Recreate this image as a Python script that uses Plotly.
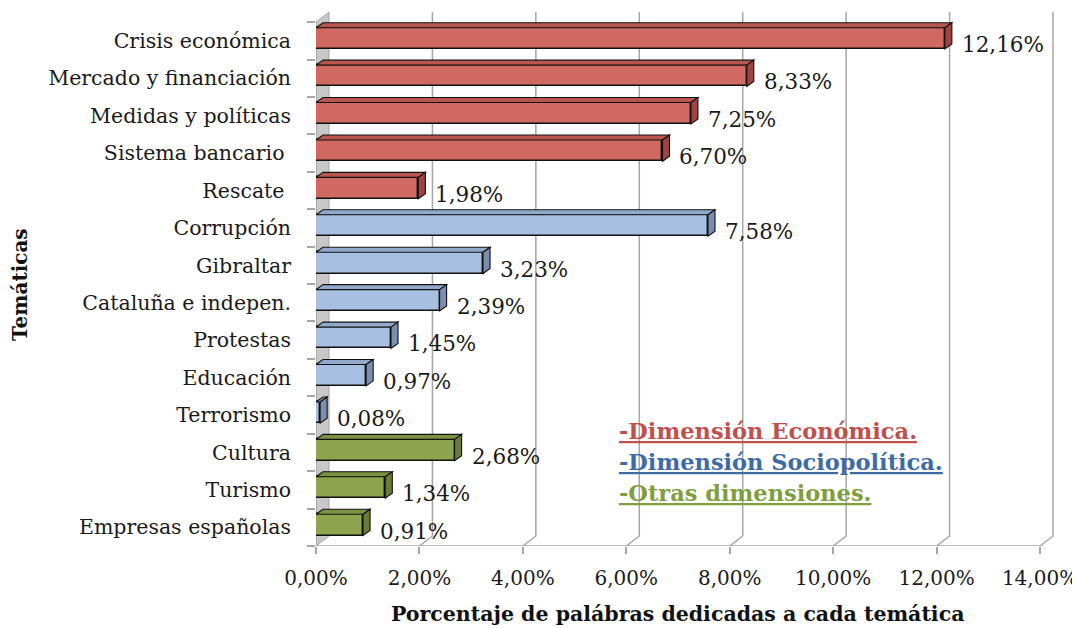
import plotly.graph_objects as go

# ---------------- data ----------------
categories = ["Crisis económica", "Mercado y financiación", "Medidas y políticas",
              "Sistema bancario ", "Rescate ", "Corrupción", "Gibraltar",
              "Cataluña e indepen.", "Protestas", "Educación", "Terrorismo",
              "Cultura", "Turismo", "Empresas españolas"]
values_pct = [12.16, 8.33, 7.25, 6.70, 1.98, 7.58, 3.23, 2.39, 1.45, 0.97, 0.08,
              2.68, 1.34, 0.91]
groups = ["eco"] * 5 + ["soc"] * 6 + ["otr"] * 3
x_ticks = [0, 0.02, 0.04, 0.06, 0.08, 0.10, 0.12, 0.14]
legend_labels = ["-Dimensión Económica.", "-Dimensión Sociopolítica.", "-Otras dimensiones."]

# ---------------- style ----------------
FONT = "DejaVu Serif"
OFF = 8                      # page body margin of the browser
W, H = 1080 - OFF, 628 - OFF
front = {"eco": "#CF6961", "soc": "#A7C0E1", "otr": "#8EA54D"}
topc = {"eco": "#B9564F", "soc": "#92A9CB", "otr": "#7C9242"}
side = {"eco": "#9E433D", "soc": "#7A8FAF", "otr": "#687C35"}
legend_colors = ["#C0504D", "#3E6BA6", "#7F9E3E"]
GRID = "#A6A6A6"

n = len(categories)
XMAX = 0.14
px_x = 724 / XMAX          # pixels per x unit
px_y = 37.43               # pixels per category
L = 316 - OFF
T = 22 - OFF - 0.35 * px_y
xr_max = XMAX + 18 / px_x
plot_w = xr_max * px_x
plot_h = (n + 0.35) * px_y
R = W - L - plot_w
B = H - T - plot_h

dxd, dyd = 13 / px_x, 10 / px_y      # wall depth
bdx, bdy = 7 / px_x, 5 / px_y        # bar depth
bw = 0.57
boff = 0.065

vals = [v / 100 for v in values_pct]
ypos = [i - boff for i in range(n)]

fig = go.Figure()
fig.add_trace(go.Bar(
    x=vals, y=ypos, orientation="h", width=bw,
    marker=dict(color=[front[g] for g in groups], line=dict(color="#111111", width=1.4)),
    hoverinfo="skip", showlegend=False))

shapes = []
# left wall
shapes.append(dict(type="path", xref="x", yref="y", layer="below",
                   path=f"M 0,{-0.5} L {dxd},{-0.5 - dyd} L {dxd},{n - 0.5 - dyd} L 0,{n - 0.5} Z",
                   fillcolor="#C8C8C8", line=dict(color=GRID, width=1)))
# back gridlines with floor diagonals
for t in x_ticks:
    if t == 0:
        continue
    shapes.append(dict(type="path", xref="x", yref="y", layer="below",
                       path=f"M {t + dxd},{-0.5 - dyd} L {t + dxd},{n - 0.5 - dyd} L {t},{n - 0.5}",
                       line=dict(color=GRID, width=1.5)))
# front axis lines
shapes.append(dict(type="line", xref="x", yref="y", layer="below", x0=0, x1=XMAX,
                   y0=n - 0.5, y1=n - 0.5, line=dict(color=GRID, width=1.5)))
shapes.append(dict(type="line", xref="x", yref="y", layer="below", x0=0, x1=0,
                   y0=-0.5, y1=n - 0.5, line=dict(color=GRID, width=1.5)))

# 3D faces of bars
for v, yc, g in zip(vals, ypos, groups):
    top = yc - bw / 2
    bot = yc + bw / 2
    shapes.append(dict(type="path", xref="x", yref="y", layer="above",
                       path=f"M 0,{top} L {v},{top} L {v + bdx},{top - bdy} L {bdx},{top - bdy} Z",
                       fillcolor=topc[g], line=dict(color="#111111", width=1.1)))
    shapes.append(dict(type="path", xref="x", yref="y", layer="above",
                       path=f"M {v},{top} L {v + bdx},{top - bdy} L {v + bdx},{bot - bdy} L {v},{bot} Z",
                       fillcolor=side[g], line=dict(color="#111111", width=1.1)))

annotations = []
for v, p, i in zip(vals, values_pct, range(n)):
    annotations.append(dict(x=v, y=i + 0.1, xref="x", yref="y", xanchor="left",
                            xshift=15, showarrow=False,
                            text=f"{p:.2f}".replace(".", ",") + "%",
                            font=dict(family=FONT, size=21.5, color="#1a1a1a")))

def px2paper(xp, yp):
    # xp, yp are screen pixels
    return (xp - OFF - L) / plot_w, 1 - (yp - OFF - T) / plot_h

for k, (lab, col) in enumerate(zip(legend_labels, legend_colors)):
    xp, yp = px2paper(617, 431 + k * 31)
    annotations.append(dict(x=xp, y=yp, xref="paper", yref="paper", xanchor="left",
                            yanchor="middle", showarrow=False, text=f"<b>{lab}</b>",
                            font=dict(family=FONT, size=22.5, color=col, lineposition="under")))

xp, yp = px2paper(677, 614)
annotations.append(dict(x=xp, y=yp, xref="paper", yref="paper", xanchor="center",
                        yanchor="middle", showarrow=False,
                        text="<b>Porcentaje de palábras dedicadas a cada temática</b>",
                        font=dict(family=FONT, size=20.5, color="#111111")))
xp, yp = px2paper(20, 285)
annotations.append(dict(x=xp, y=yp, xref="paper", yref="paper", xanchor="center",
                        yanchor="middle", showarrow=False, textangle=-90,
                        text="<b>Temáticas</b>",
                        font=dict(family=FONT, size=20, color="#111111")))

fig.update_layout(
    width=W, height=H,
    margin=dict(l=L, r=R, t=T, b=B, autoexpand=False),
    paper_bgcolor="white", plot_bgcolor="white",
    separators=",.",
    shapes=shapes, annotations=annotations,
    bargap=0,
    xaxis=dict(range=[0, xr_max], tickvals=x_ticks, tickformat=".2%",
               showgrid=False, zeroline=False, showline=False,
               ticks="outside", ticklen=7, tickwidth=1.5, tickcolor=GRID,
               ticklabelstandoff=7, ticklabeloverflow="allow",
               tickfont=dict(family=FONT, size=20, color="#1a1a1a")),
    yaxis=dict(range=[n - 0.5, -0.85], tickvals=list(range(n)), ticktext=categories,
               showgrid=False, zeroline=False, showline=False, ticks="",
               minor=dict(tickmode="linear", tick0=0.5, dtick=1, ticks="outside",
                          ticklen=8, tickwidth=1.5, tickcolor=GRID, showgrid=False),
               ticklabelstandoff=24,
               tickfont=dict(family=FONT, size=20.5, color="#1a1a1a")),
)

fig.write_html("out.html")
